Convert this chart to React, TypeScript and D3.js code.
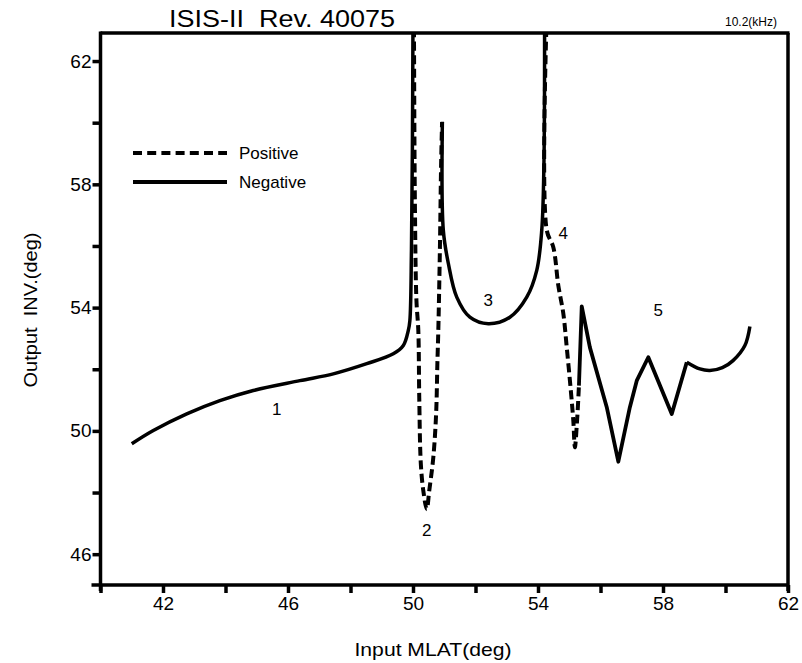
import React, { useEffect, useRef } from 'react';
import * as d3 from 'd3';

// axis ticks
const xMajorTicks = [42, 46, 50, 54, 58, 62];
const xMinorTicks = [40, 44, 48, 52, 56, 60];
const yMajorTicks = [46, 50, 54, 58, 62];
const yMinorTicks = [48, 52, 56, 60];

// Negative branches (solid) [MLAT, INV]
const negative1: [number, number][] = [
  [41.0, 49.58], [41.69, 50.01], [42.76, 50.55], [43.82, 50.98], [44.89, 51.31],
  [46.38, 51.63], [47.45, 51.85], [48.52, 52.18], [49.37, 52.5], [49.69, 52.77],
  [49.85, 53.26], [49.9, 53.58], [49.95, 55.86], [49.98, 59.11], [50.0, 63.5],
];
const negative3: [number, number][] = [
  [50.94, 60.03], [50.97, 56.51], [51.13, 55.44], [51.4, 54.34], [51.82, 53.69],
  [52.41, 53.48], [53.1, 53.69], [53.64, 54.34], [53.96, 55.21], [54.12, 56.51],
  [54.19, 58.69], [54.21, 63.5],
];
const negative5Zigzag: [number, number][] = [
  [55.31, 51.47], [55.4, 54.04], [55.66, 52.71], [56.2, 50.77], [56.57, 49.0],
  [56.94, 50.77], [57.16, 51.63], [57.53, 52.39], [58.28, 50.55], [58.76, 52.23],
];
const negative5Tail: [number, number][] = [
  [58.76, 52.23], [59.18, 52.01], [59.5, 51.96], [59.9, 52.05], [60.24, 52.28],
  [60.62, 52.77], [60.78, 53.39],
];

// Positive branches (dashed)
const positive2: [number, number][] = [
  [50.03, 63.5], [50.06, 57.48], [50.11, 54.23], [50.17, 53.26], [50.2, 51.09],
  [50.25, 48.94], [50.33, 48.06], [50.44, 47.46], [50.52, 48.06], [50.65, 49.14],
  [50.74, 50.56], [50.78, 52.19], [50.81, 53.26], [50.86, 55.86], [50.9, 58.69],
  [50.93, 60.02],
];
const positive4: [number, number][] = [
  [54.28, 63.5], [54.28, 56.51], [54.49, 55.96], [54.65, 54.72], [54.81, 53.81],
  [54.92, 52.71], [55.05, 51.31], [55.13, 50.33], [55.18, 49.47], [55.25, 50.33],
  [55.31, 51.47],
];

const branchLabels = [
  { label: '1', mlat: 45.64, inv: 50.71 },
  { label: '2', mlat: 50.44, inv: 46.76 },
  { label: '3', mlat: 52.41, inv: 54.23 },
  { label: '4', mlat: 54.81, inv: 56.4 },
  { label: '5', mlat: 57.85, inv: 53.9 },
];

const FONT = '"Liberation Sans", Arial, sans-serif';

const App = () => {
  const svgRef = useRef<SVGSVGElement>(null);

  useEffect(() => {
    const width = 802;
    const height = 663;
    const left = 100.5, right = 788, top = 33, bottom = 585;

    const svg = d3.select(svgRef.current);
    svg.selectAll('*').remove();
    svg.attr('width', width).attr('height', height);

    const x = d3.scaleLinear().domain([40, 62]).range([left, right]);
    const y = d3.scaleLinear().domain([45, 62.91]).range([bottom, top]);

    svg.append('rect').attr('width', width).attr('height', height).attr('fill', '#fff');

    svg.append('defs').append('clipPath').attr('id', 'plot-clip')
      .append('rect')
      .attr('x', left).attr('y', top)
      .attr('width', right - left).attr('height', bottom - top);

    // frame
    const frame = svg.append('g').attr('stroke', '#000').attr('stroke-width', 3.5);
    frame.append('line').attr('x1', left).attr('x2', left).attr('y1', top - 1.5).attr('y2', bottom + 6);
    frame.append('line').attr('x1', left - 9).attr('x2', right).attr('y1', bottom).attr('y2', bottom);
    frame.append('line').attr('x1', left).attr('x2', right + 1.5).attr('y1', top).attr('y2', top);
    frame.append('line').attr('x1', right).attr('x2', right).attr('y1', top).attr('y2', bottom + 6);

    // x axis
    const xAxis = svg.append('g')
      .attr('transform', `translate(0,${bottom})`)
      .call(d3.axisBottom(x).tickValues([...xMajorTicks, ...xMinorTicks]).tickSize(8).tickPadding(4)
        .tickFormat(d => (xMajorTicks.includes(+d) ? String(d) : '')));
    xAxis.select('.domain').remove();
    xAxis.selectAll('line').attr('stroke', '#000').attr('stroke-width', 3.5);
    xAxis.selectAll('text')
      .style('font-family', FONT).style('font-size', '19px').attr('fill', '#000');

    // y axis
    const yAxis = svg.append('g')
      .attr('transform', `translate(${left},0)`)
      .call(d3.axisLeft(y).tickValues([...yMajorTicks, ...yMinorTicks]).tickSize(8).tickPadding(1)
        .tickFormat(d => (yMajorTicks.includes(+d) ? String(d) : '')));
    yAxis.select('.domain').remove();
    yAxis.selectAll('line').attr('stroke', '#000').attr('stroke-width', 3.5);
    yAxis.selectAll('text')
      .style('font-family', FONT).style('font-size', '19px').attr('fill', '#000');

    // curves
    const smooth = d3.line<[number, number]>()
      .x(d => x(d[0])).y(d => y(d[1]))
      .curve(d3.curveCatmullRom.alpha(0.5));
    const straight = d3.line<[number, number]>()
      .x(d => x(d[0])).y(d => y(d[1]));

    const plot = svg.append('g').attr('clip-path', 'url(#plot-clip)')
      .attr('fill', 'none').attr('stroke', '#000').attr('stroke-linejoin', 'round');

    [negative1, negative3, negative5Tail].forEach(seg => {
      plot.append('path').attr('d', smooth(seg)).attr('stroke-width', 3.5);
    });
    plot.append('path').attr('d', straight(negative5Zigzag)).attr('stroke-width', 3.8);
    [positive2, positive4].forEach(seg => {
      plot.append('path').attr('d', smooth(seg))
        .attr('stroke-width', 4).attr('stroke-dasharray', '9,4.5');
    });

    // branch labels
    svg.append('g').selectAll('text').data(branchLabels).enter().append('text')
      .attr('x', d => x(d.mlat)).attr('y', d => y(d.inv))
      .attr('text-anchor', 'middle').attr('dominant-baseline', 'central')
      .style('font-family', FONT).style('font-size', '17px')
      .text(d => d.label);

    // legend
    const legend = svg.append('g');
    legend.append('line').attr('x1', 133).attr('x2', 227).attr('y1', 153).attr('y2', 153)
      .attr('stroke', '#000').attr('stroke-width', 4).attr('stroke-dasharray', '9,5.2');
    legend.append('line').attr('x1', 133).attr('x2', 227).attr('y1', 182).attr('y2', 182)
      .attr('stroke', '#000').attr('stroke-width', 4);
    legend.append('text').attr('x', 239).attr('y', 159)
      .style('font-family', FONT).style('font-size', '17px').text('Positive');
    legend.append('text').attr('x', 239).attr('y', 188)
      .style('font-family', FONT).style('font-size', '17px').text('Negative');

    // titles
    svg.append('text').attr('x', 169).attr('y', 27)
      .attr('textLength', 226).attr('lengthAdjust', 'spacingAndGlyphs')
      .attr('xml:space', 'preserve').style('white-space', 'pre')
      .style('font-family', FONT).style('font-size', '23px')
      .text('ISIS-II  Rev. 40075');
    svg.append('text').attr('x', 777).attr('y', 26).attr('text-anchor', 'end')
      .style('font-family', FONT).style('font-size', '12px')
      .text('10.2(kHz)');

    svg.append('text').attr('x', 433).attr('y', 656).attr('text-anchor', 'middle')
      .attr('textLength', 157).attr('lengthAdjust', 'spacingAndGlyphs')
      .style('font-family', FONT).style('font-size', '19px')
      .text('Input MLAT(deg)');
    svg.append('text')
      .attr('transform', 'translate(37,310) rotate(-90)')
      .attr('text-anchor', 'middle')
      .attr('textLength', 155).attr('lengthAdjust', 'spacingAndGlyphs')
      .style('white-space', 'pre')
      .style('font-family', FONT).style('font-size', '19px')
      .text('Output  INV.(deg)');
  }, []);

  return (
    <div style={{ position: 'absolute', left: 0, top: 0 }}>
      <svg ref={svgRef} style={{ display: 'block' }}></svg>
    </div>
  );
};

export default App;
